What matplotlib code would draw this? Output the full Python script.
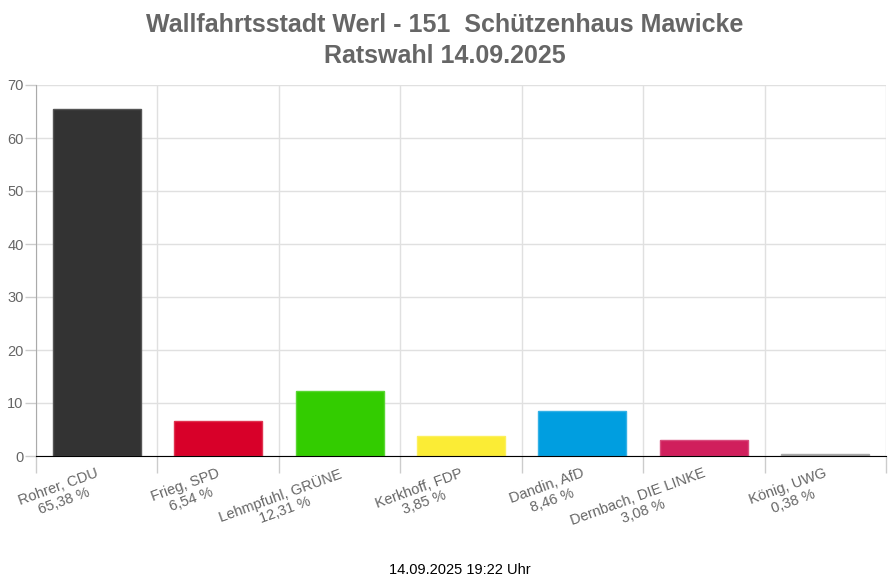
import matplotlib.pyplot as plt

plt.rcParams['font.family'] = ['Liberation Sans', 'DejaVu Sans']

# candidates and results (percent)
names = ['Rohrer, CDU', 'Frieg, SPD', 'Lehmpfuhl, GRÜNE', 'Kerkhoff, FDP',
         'Dandin, AfD', 'Dernbach, DIE LINKE', 'König, UWG']
values = [65.38, 6.54, 12.31, 3.85, 8.46, 3.08, 0.38]
value_labels = ['65,38 %', '6,54 %', '12,31 %', '3,85 %', '8,46 %', '3,08 %', '0,38 %']
colors = ['#333333', '#d80029', '#33cc00', '#fbec35', '#009ee0', '#d01f5c', '#999999']
edges = ['#555555', '#e0334f', '#5ad633', '#fcf05c', '#33b1e6', '#d94c7d', '#aaaaaa']

fig = plt.figure(figsize=(8.9, 5.85), dpi=100)
ax = fig.add_axes([36 / 890, 1 - 456 / 585, 850 / 890, 371 / 585])

x = list(range(len(names)))
ax.bar(x, values, width=0.725, color=colors, edgecolor=edges, linewidth=1, zorder=2)

ax.set_xlim(-0.5, len(names) - 0.5)
ax.set_ylim(0, 70)
ax.set_yticks(range(0, 71, 10))

# vertical grid at the category boundaries
for b in range(len(names) + 1):
    ax.axvline(b - 0.5, color='#e0e0e0', lw=1, zorder=0)
ax.yaxis.grid(True, color='#e0e0e0', lw=1, zorder=0)
ax.set_axisbelow(True)

ax.set_xticks([b - 0.5 for b in range(len(names) + 1)])
ax.set_xticklabels([])
ax.tick_params(axis='x', length=12, color='#cccccc', width=1)
ax.tick_params(axis='y', length=8, color='#cccccc', width=1, labelsize=10.5,
               labelcolor='#666666', pad=1)

for s in ['top', 'right']:
    ax.spines[s].set_visible(False)
ax.spines['left'].set_color('#aaaaaa')
ax.spines['bottom'].set_color('#000000')
ax.spines['bottom'].set_zorder(3)

for i in x:
    ax.text(i - 0.01, -1.9, names[i] + '\n' + value_labels[i], rotation=20,
            rotation_mode='anchor', ha='right', va='top', multialignment='center',
            fontsize=10.5, color='#666666', linespacing=1.15)

fig.text(0.5, 1 - 25 / 585, 'Wallfahrtsstadt Werl - 151  Schützenhaus Mawicke',
         ha='center', va='center', fontsize=18, fontweight='bold', color='#666666')
fig.text(0.5, 1 - 56 / 585, 'Ratswahl 14.09.2025', ha='center', va='center',
         fontsize=18, fontweight='bold', color='#666666')
fig.text(460 / 890, 1 - 570 / 585, '14.09.2025 19:22 Uhr', ha='center', va='center',
         fontsize=10.5, color='#000000')

fig.savefig('out.png', dpi=100)
